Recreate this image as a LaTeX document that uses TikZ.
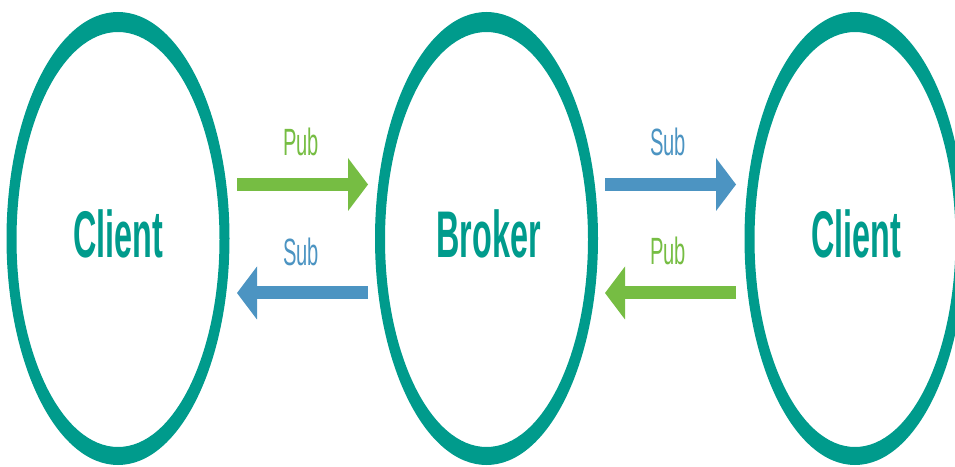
\documentclass[tikz,border=0pt]{standalone}
\usepackage{fontspec}
\usetikzlibrary{arrows.meta}
\newfontfamily\bigcond[FakeStretch=0.49]{Liberation Sans}
\newfontfamily\smallcond[FakeStretch=0.53]{Liberation Sans}
\definecolor{ringteal}{RGB}{0,155,140}
\definecolor{pubgreen}{RGB}{118,189,67}
\definecolor{subblue}{RGB}{76,148,194}
\tikzset{
  ring/.style={fill=ringteal, even odd rule},
  actor/.style={anchor=base, text=ringteal, font=\bigcond\bfseries\fontsize{66}{66}\selectfont, inner sep=0pt},
  msglabel/.style={anchor=base, font=\smallcond\fontsize{38}{38}\selectfont, inner sep=0pt},
  fat/.style={line width=13pt, -{Triangle[length=20pt,width=53pt,line width=0pt]}},
}
\begin{document}
\begin{tikzpicture}[x=1pt,y=1pt]
\useasboundingbox (0,0) rectangle (955,466);
% rings
\fill[ring] (118,227.5) ellipse [x radius=111.5pt, y radius=226.5pt]
            (118,226.5) ellipse [x radius=101.5pt, y radius=207.5pt];
\fill[ring] (486.5,227.5) ellipse [x radius=111.5pt, y radius=226.5pt]
            (486.5,226.5) ellipse [x radius=101.5pt, y radius=207.5pt];
\fill[ring] (855,227.5) ellipse [x radius=110.5pt, y radius=226.5pt]
            (855,226.5) ellipse [x radius=100.5pt, y radius=207.5pt];
% actor names
\node[actor] (client1) at (118.5,208) {Client};
\node[actor] (broker) at (488.5,208) {Broker};
\node[actor] (client2) at (856,208) {Client};
% arrow end points on the rings
\coordinate (l1) at (237,281.5);
\coordinate (r1) at (368,281.5);
\coordinate (l2) at (237,173);
\coordinate (r2) at (368,173);
\coordinate (l3) at (605,281.5);
\coordinate (r3) at (736,281.5);
\coordinate (l4) at (605,173);
\coordinate (r4) at (736,173);
% arrows
\draw[fat, pubgreen] (l1) -- (r1);
\draw[fat, subblue] (r2) -- (l2);
\draw[fat, subblue] (l3) -- (r3);
\draw[fat, pubgreen] (r4) -- (l4);
% labels
\node[msglabel, text=pubgreen] (pub1) at (301,310) {Pub};
\node[msglabel, text=subblue] (sub1) at (301,200) {Sub};
\node[msglabel, text=subblue] (sub2) at (668,310) {Sub};
\node[msglabel, text=pubgreen] (pub2) at (668,201) {Pub};
\end{tikzpicture}
\end{document}
